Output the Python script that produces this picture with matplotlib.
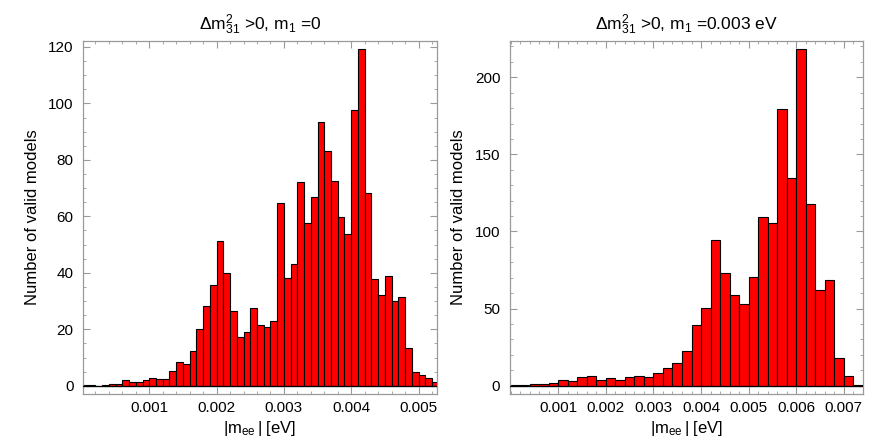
import numpy as np
import matplotlib
matplotlib.use("Agg")
import matplotlib.pyplot as plt
from matplotlib.ticker import MultipleLocator, FixedLocator

plt.rcParams['font.family'] = ['Liberation Sans', 'DejaVu Sans']
plt.rcParams['mathtext.fontset'] = 'custom'
plt.rcParams['mathtext.rm'] = 'Liberation Sans'
plt.rcParams['mathtext.it'] = 'Liberation Sans'

# ---- data ----
left_bin_width = 0.0001
left_counts = [0.3, 0.4, 0.0, 0.3, 0.8, 0.8, 2.0, 1.4, 1.4, 1.9,
               2.8, 2.5, 2.5, 5.1, 8.5, 7.7, 12.2, 20.1, 28.4, 35.8,
               51.2, 39.9, 26.5, 17.2, 19.2, 27.5, 21.4, 20.8, 22.9, 64.9,
               38.0, 43.3, 72.0, 57.8, 67.0, 93.5, 83.0, 72.7, 59.6, 53.8,
               97.6, 119.1, 68.3, 37.9, 32.0, 38.9, 30.0, 31.5, 13.5, 5.0,
               3.7, 2.9, 1.3]
right_bin_width = 0.0002
right_counts = [0.2, 0.3, 1.2, 0.8, 1.8, 4.0, 3.3, 5.3, 6.0, 4.0,
                5.1, 3.7, 5.4, 6.0, 5.8, 8.0, 11.2, 14.9, 22.7, 39.3,
                50.2, 94.3, 72.8, 58.8, 53.0, 70.3, 109.6, 105.3, 179.4, 134.9,
                218.1, 117.8, 61.8, 68.3, 17.9, 6.3, 0.3]

left_xticks = [0.001, 0.002, 0.003, 0.004, 0.005]
left_xticklabels = ["0.001", "0.002", "0.003", "0.004", "0.005"]
left_yticks = [0, 20, 40, 60, 80, 100, 120]
right_xticks = [0.001, 0.002, 0.003, 0.004, 0.005, 0.006, 0.007]
right_xticklabels = ["0.001", "0.002", "0.003", "0.004", "0.005", "0.006", "0.007"]
right_yticks = [0, 50, 100, 150, 200]

left_title = r'$\Delta$m$_{31}^{2}$ >0, m$_1$ =0'
right_title = r'$\Delta$m$_{31}^{2}$ >0, m$_1$ =0.003 eV'
xlabel = r'|m$_{\rm ee}\,$| [eV]'
ylabel = 'Number of valid models'

fig = plt.figure(figsize=(8.93, 4.45), dpi=100)
W, H = 893, 445

def make_ax(x0, x1, y0, y1):
    return fig.add_axes([x0 / W, 1 - y1 / H, (x1 - x0) / W, (y1 - y0) / H])

axL = make_ax(83.3, 436.7, 41, 394)
axR = make_ax(510, 863.3, 41, 394)

frame_col = '#9a9a9a'

def draw(ax, counts, bw, xlim, ylim, xt, xtl, yt, xminor, yminor, title):
    counts = np.asarray(counts)
    edges = np.arange(len(counts)) * bw
    ax.bar(edges, counts, width=bw, align='edge', color='#ff0000',
           edgecolor='black', linewidth=0.8, zorder=2)
    ax.axhline(0, color='black', linewidth=0.9, zorder=3)
    ax.set_xlim(*xlim)
    ax.set_ylim(*ylim)
    ax.xaxis.set_major_locator(FixedLocator(xt))
    ax.set_xticklabels(xtl)
    ax.yaxis.set_major_locator(FixedLocator(yt))
    ax.xaxis.set_minor_locator(MultipleLocator(xminor))
    ax.yaxis.set_minor_locator(MultipleLocator(yminor))
    ax.tick_params(which='both', direction='in', top=True, right=True,
                   color=frame_col, labelsize=11, labelcolor='black')
    ax.tick_params(which='major', length=5, width=0.8)
    ax.tick_params(which='minor', length=2.5, width=0.6)
    ax.tick_params(axis='x', pad=5)
    ax.tick_params(axis='y', pad=7)
    for s in ax.spines.values():
        s.set_color(frame_col)
        s.set_linewidth(0.9)
    ax.set_title(title, fontsize=12.5, pad=8)
    ax.set_xlabel(xlabel, fontsize=12, labelpad=3)
    ax.set_ylabel(ylabel, fontsize=12, labelpad=6)

draw(axL, left_counts, left_bin_width, (0.00002, 0.00527), (-2.9, 122.1),
     left_xticks, left_xticklabels, left_yticks, 0.0002, 5, left_title)
draw(axR, right_counts, right_bin_width, (-0.000015, 0.00741), (-5.4, 223.5),
     right_xticks, right_xticklabels, right_yticks, 0.0002, 10, right_title)

fig.savefig('out.png', dpi=100)
